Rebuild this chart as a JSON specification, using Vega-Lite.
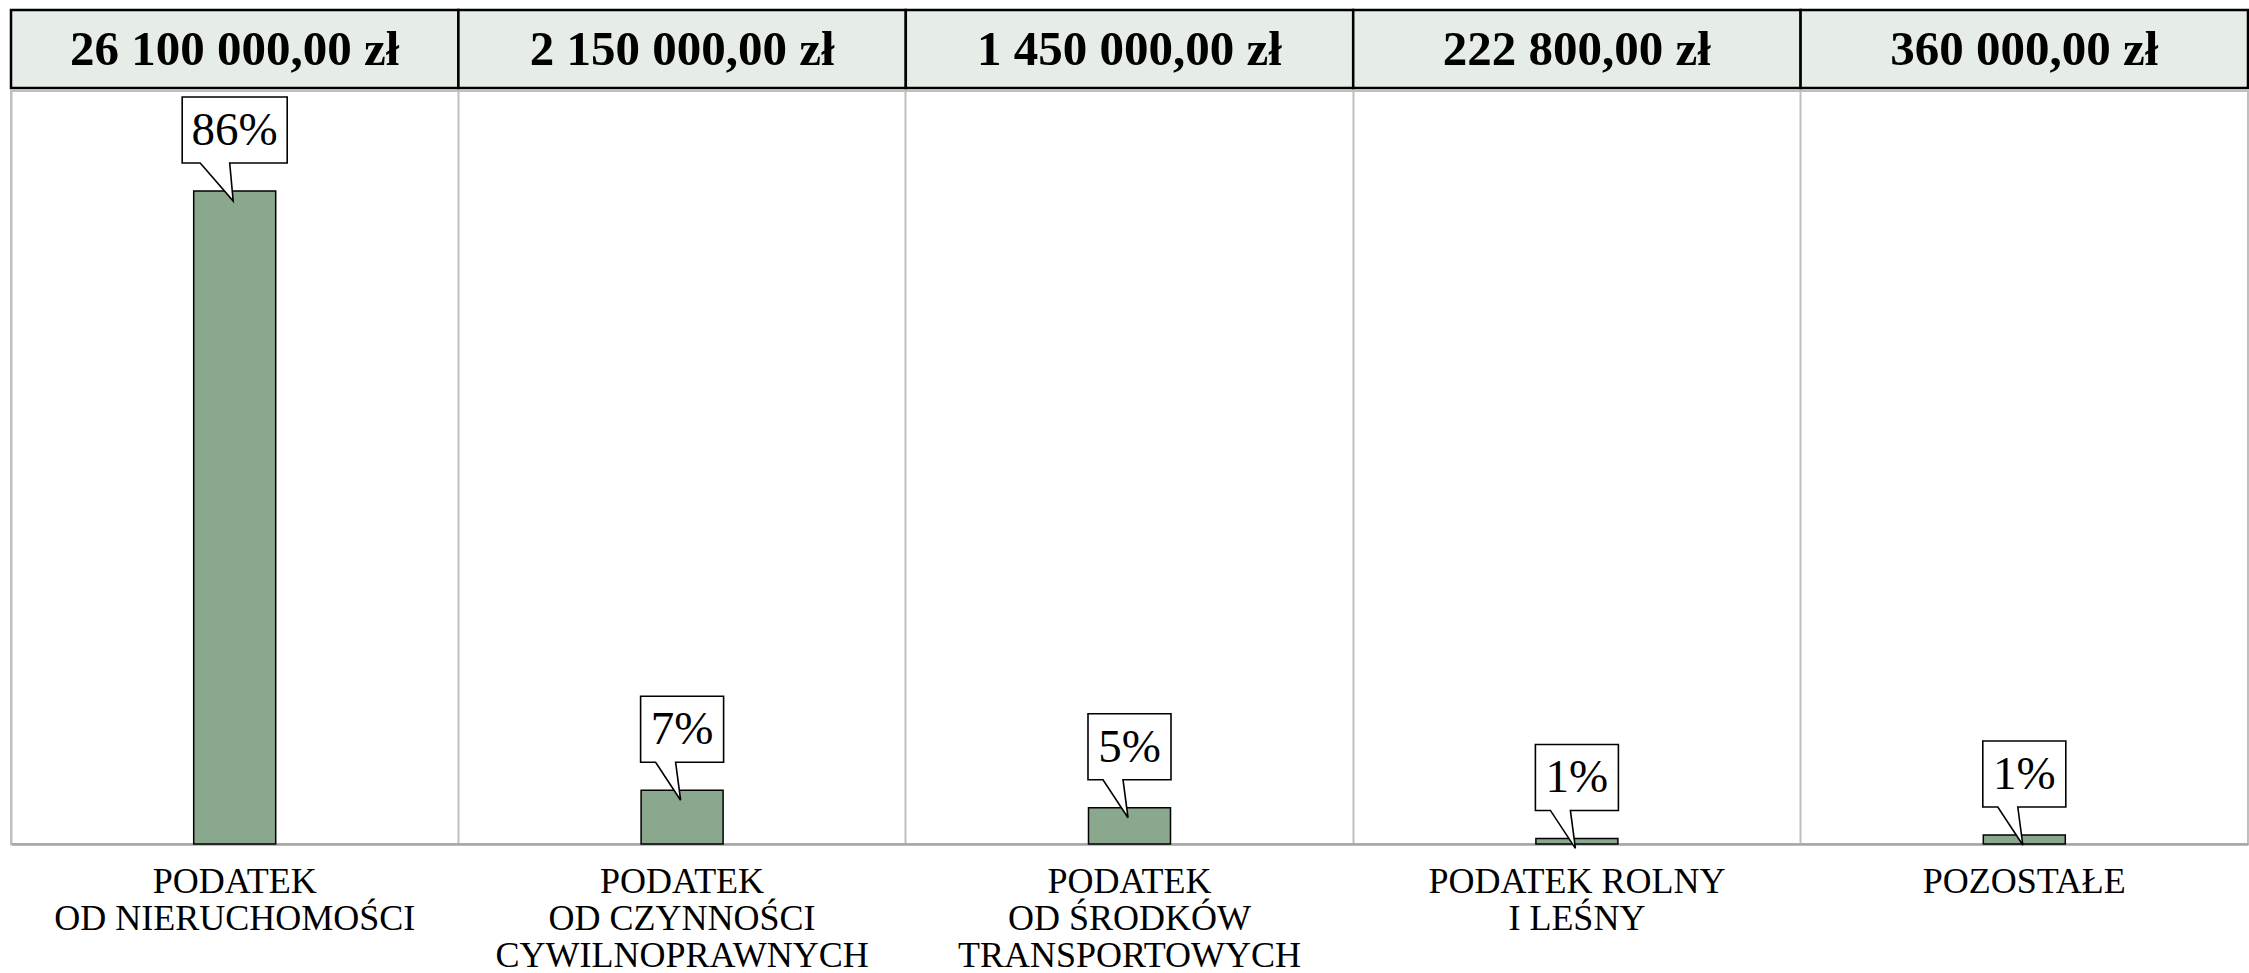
{
  "$schema": "https://vega.github.io/schema/vega-lite/v6.json",
  "background": "white",
  "padding": {"left": 9, "top": 8, "right": 0, "bottom": 0},
  "spacing": 0,
  "data": {"values": [
    {"cat": "PODATEK|OD NIERUCHOMOŚCI", "amount": "26 100 000,00 zł", "value": 26100000, "pct": "86%"},
    {"cat": "PODATEK|OD CZYNNOŚCI|CYWILNOPRAWNYCH", "amount": "2 150 000,00 zł", "value": 2150000, "pct": "7%"},
    {"cat": "PODATEK|OD ŚRODKÓW|TRANSPORTOWYCH", "amount": "1 450 000,00 zł", "value": 1450000, "pct": "5%"},
    {"cat": "PODATEK ROLNY|I LEŚNY", "amount": "222 800,00 zł", "value": 222800, "pct": "1%"},
    {"cat": "POZOSTAŁE", "amount": "360 000,00 zł", "value": 360000, "pct": "1%"}
  ]},
  "vconcat": [
    {
      "width": 2237,
      "height": 78,
      "view": {"stroke": null},
      "encoding": {
        "x": {"field": "cat", "type": "nominal", "sort": null, "axis": null,
              "scale": {"paddingInner": 0, "paddingOuter": 0}}
      },
      "layer": [
        {"mark": {"type": "rect", "fill": "#e6ece6", "stroke": "black", "strokeWidth": 2.5}},
        {"mark": {"type": "text", "font": "Liberation Serif", "fontWeight": "bold", "fontSize": 49, "color": "black", "baseline": "middle", "align": "center", "dy": 1},
         "encoding": {"text": {"field": "amount"}}}
      ]
    },
    {
      "width": 2237,
      "height": 753,
      "view": {"stroke": "#bfbfbf", "strokeWidth": 2},
      "encoding": {
        "x": {"field": "cat", "type": "nominal", "sort": null,
              "scale": {"paddingInner": 0, "paddingOuter": 0},
              "axis": {"title": null, "labelAngle": 0, "ticks": false, "grid": true, "gridColor": "#bfbfbf", "gridWidth": 2, "bandPosition": 0,
                       "domainColor": "#a6a6a6", "domainWidth": 2.5,
                       "labelExpr": "split(datum.label, '|')", "labelFont": "Liberation Serif", "labelFontSize": 36, "labelColor": "black",
                       "labelLineHeight": 37, "labelPadding": 20, "labelBaseline": "top", "labelLimit": 0}},
        "y": {"field": "value", "type": "quantitative", "axis": null, "scale": {"domain": [0, 30100000], "nice": false, "zero": true}}
      },
      "layer": [
        {"mark": {"type": "bar", "width": 82, "fill": "#8aa88d", "stroke": "black", "strokeWidth": 1.5}},
        {"transform": [{"filter": "length(datum.pct) == 3"}],
         "mark": {"type": "point", "filled": true, "fill": "white", "stroke": "black", "strokeWidth": 1.6, "opacity": 1, "fillOpacity": 1, "size": 10000,
                  "shape": "M -1.05 -1.88 L 1.05 -1.88 L 1.05 -0.56 L -0.1 -0.56 L -0.03 0.2 L -0.69 -0.56 L -1.05 -0.56 Z"}},
        {"transform": [{"filter": "length(datum.pct) < 3"}],
         "mark": {"type": "point", "filled": true, "fill": "white", "stroke": "black", "strokeWidth": 1.6, "opacity": 1, "fillOpacity": 1, "size": 10000,
                  "shape": "M -0.83 -1.88 L 0.83 -1.88 L 0.83 -0.56 L -0.13 -0.56 L -0.03 0.2 L -0.53 -0.56 L -0.83 -0.56 Z"}},
        {"mark": {"type": "text", "font": "Liberation Serif", "fontSize": 47, "color": "black", "baseline": "middle", "align": "center", "dy": -60},
         "encoding": {"text": {"field": "pct"}}}
      ]
    }
  ],
  "config": {"view": {"stroke": null}}
}
